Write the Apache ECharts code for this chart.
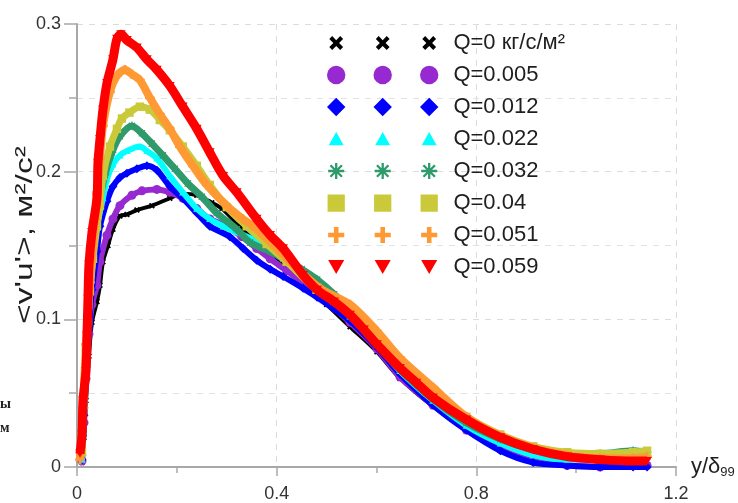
<!DOCTYPE html>
<html>
<head>
<meta charset="utf-8">
<script src="https://cdn.jsdelivr.net/npm/echarts@6/dist/echarts.min.js"></script>
<style>
  html, body { margin: 0; padding: 0; background: #fff; }
  #chart { width: 738px; height: 503px; }
</style>
</head>
<body>
<div id="chart"></div>
<script>
// legend names (Q, kg/s/m2)
const names = ['Q=0 кг/с/м²', 'Q=0.005', 'Q=0.012', 'Q=0.022', 'Q=0.032', 'Q=0.04', 'Q=0.051', 'Q=0.059'];
const xTicks = [0, 0.4, 0.8, 1.2];
const yTicks = [0, 0.1, 0.2, 0.3];

// [y/delta99, <v'u'>]
const q0 = [[0.010,0.003],[0.014,0.020],[0.018,0.045],[0.024,0.075],[0.030,0.098],[0.040,0.112],[0.046,0.123],[0.052,0.139],[0.062,0.150],[0.072,0.161],[0.086,0.170],[0.100,0.171],[0.120,0.174],[0.150,0.177],[0.186,0.182],[0.210,0.185],[0.240,0.184],[0.270,0.179],[0.290,0.175],[0.320,0.165],[0.350,0.155],[0.387,0.145],[0.440,0.128],[0.500,0.110],[0.547,0.095],[0.601,0.078],[0.647,0.060],[0.713,0.041],[0.780,0.025],[0.848,0.012],[0.914,0.004],[0.982,0.001],[1.048,0.000],[1.114,0.000],[1.142,0.001]];
const q005 = [[0.010,0.004],[0.014,0.030],[0.018,0.060],[0.024,0.090],[0.030,0.110],[0.040,0.123],[0.046,0.139],[0.060,0.157],[0.072,0.168],[0.086,0.177],[0.110,0.184],[0.130,0.187],[0.160,0.188],[0.186,0.186],[0.212,0.182],[0.240,0.175],[0.266,0.168],[0.300,0.163],[0.330,0.156],[0.360,0.148],[0.387,0.141],[0.420,0.133],[0.467,0.121],[0.500,0.112],[0.547,0.098],[0.601,0.080],[0.647,0.061],[0.713,0.042],[0.780,0.025],[0.848,0.012],[0.914,0.004],[0.982,0.001],[1.048,0.000],[1.114,0.001],[1.142,0.001]];
const q012 = [[0.010,0.005],[0.014,0.035],[0.018,0.065],[0.024,0.095],[0.030,0.120],[0.040,0.146],[0.046,0.163],[0.060,0.180],[0.072,0.190],[0.086,0.196],[0.100,0.199],[0.120,0.202],[0.140,0.204],[0.160,0.201],[0.186,0.190],[0.212,0.182],[0.240,0.172],[0.266,0.163],[0.306,0.156],[0.333,0.148],[0.360,0.140],[0.387,0.134],[0.413,0.129],[0.453,0.121],[0.481,0.115],[0.515,0.107],[0.547,0.099],[0.601,0.081],[0.647,0.063],[0.713,0.042],[0.780,0.025],[0.848,0.011],[0.914,0.003],[0.982,0.001],[1.048,0.000],[1.114,0.000],[1.142,0.000]];
const q022 = [[0.010,0.005],[0.014,0.040],[0.018,0.075],[0.024,0.110],[0.030,0.140],[0.040,0.163],[0.052,0.182],[0.060,0.195],[0.072,0.205],[0.086,0.211],[0.100,0.214],[0.126,0.217],[0.140,0.214],[0.160,0.209],[0.186,0.197],[0.212,0.186],[0.240,0.175],[0.266,0.168],[0.293,0.163],[0.320,0.159],[0.360,0.153],[0.387,0.148],[0.413,0.142],[0.450,0.132],[0.481,0.122],[0.515,0.112],[0.547,0.102],[0.601,0.083],[0.647,0.065],[0.713,0.045],[0.780,0.028],[0.848,0.016],[0.914,0.008],[0.982,0.005],[1.048,0.005],[1.114,0.007],[1.142,0.007]];
const q032 = [[0.010,0.008],[0.014,0.040],[0.020,0.080],[0.026,0.120],[0.034,0.150],[0.044,0.178],[0.056,0.198],[0.070,0.213],[0.086,0.224],[0.110,0.231],[0.130,0.226],[0.150,0.219],[0.172,0.211],[0.196,0.202],[0.222,0.192],[0.250,0.183],[0.280,0.172],[0.320,0.161],[0.347,0.152],[0.387,0.146],[0.413,0.141],[0.450,0.134],[0.481,0.127],[0.515,0.117],[0.547,0.105],[0.601,0.083],[0.647,0.066],[0.713,0.046],[0.780,0.030],[0.848,0.019],[0.914,0.012],[0.982,0.009],[1.048,0.009],[1.114,0.011],[1.142,0.010]];
const q04 = [[0.010,0.010],[0.012,0.040],[0.018,0.080],[0.026,0.119],[0.032,0.141],[0.040,0.163],[0.046,0.177],[0.052,0.197],[0.066,0.217],[0.080,0.229],[0.090,0.236],[0.105,0.240],[0.126,0.244],[0.146,0.242],[0.166,0.235],[0.186,0.228],[0.212,0.217],[0.240,0.204],[0.266,0.191],[0.300,0.176],[0.340,0.163],[0.380,0.151],[0.420,0.139],[0.480,0.120],[0.547,0.106],[0.601,0.088],[0.647,0.072],[0.713,0.052],[0.780,0.034],[0.848,0.022],[0.914,0.014],[0.982,0.010],[1.048,0.009],[1.114,0.010],[1.142,0.011]];
const q051 = [[0.006,0.005],[0.012,0.040],[0.018,0.083],[0.026,0.125],[0.032,0.150],[0.036,0.168],[0.040,0.186],[0.046,0.209],[0.052,0.231],[0.066,0.254],[0.080,0.265],[0.096,0.269],[0.110,0.266],[0.126,0.262],[0.146,0.250],[0.166,0.239],[0.186,0.229],[0.206,0.217],[0.232,0.204],[0.260,0.191],[0.300,0.177],[0.332,0.168],[0.353,0.163],[0.373,0.157],[0.421,0.141],[0.487,0.121],[0.547,0.110],[0.601,0.092],[0.647,0.074],[0.713,0.054],[0.780,0.034],[0.848,0.021],[0.914,0.013],[0.982,0.008],[1.048,0.006],[1.114,0.006],[1.142,0.007]];
const q059 = [[0.006,0.009],[0.010,0.022],[0.012,0.045],[0.018,0.065],[0.020,0.089],[0.022,0.114],[0.024,0.137],[0.030,0.159],[0.040,0.182],[0.042,0.206],[0.046,0.222],[0.052,0.242],[0.060,0.260],[0.072,0.276],[0.080,0.290],[0.088,0.293],[0.100,0.289],[0.120,0.284],[0.140,0.276],[0.160,0.269],[0.186,0.258],[0.212,0.244],[0.240,0.229],[0.266,0.213],[0.293,0.197],[0.320,0.186],[0.360,0.168],[0.387,0.157],[0.413,0.148],[0.453,0.130],[0.481,0.120],[0.515,0.112],[0.547,0.103],[0.575,0.093],[0.601,0.083],[0.647,0.067],[0.680,0.057],[0.713,0.047],[0.780,0.032],[0.848,0.020],[0.914,0.012],[0.982,0.007],[1.048,0.005],[1.114,0.004],[1.142,0.004]];

const seriesData = [q0, q005, q012, q022, q032, q04, q051, q059];
const colors = ['#000000', '#9629cf', '#0000ff', '#00ffff', '#2f9a6c', '#c9c93a', '#ff9933', '#ff0000'];

// marker shapes drawn in a 16x16 box
const shapes = {
    cross: [[[2,4.5],[4.5,2],[8,5.5],[11.5,2],[14,4.5],[10.5,8],[14,11.5],[11.5,14],[8,10.5],[4.5,14],[2,11.5],[5.5,8]]],
    circle: 'circle',
    diamond: [[[8,0],[16,8],[8,16],[0,8]]],
    triangle: [[[8,2],[14.5,13.5],[1.5,13.5]]],
    star: [[[1,7],[15,7],[15,9],[1,9]], [[7,1],[9,1],[9,15],[7,15]],
           [[3.7,2.3],[13.7,12.3],[12.3,13.7],[2.3,3.7]], [[12.3,2.3],[13.7,3.7],[3.7,13.7],[2.3,12.3]]],
    square: [[[0.5,0.5],[15.5,0.5],[15.5,15.5],[0.5,15.5]]],
    plus: [[[6,1],[10,1],[10,6],[15,6],[15,10],[10,10],[10,15],[6,15],[6,10],[1,10],[1,6],[6,6]]],
    down: [[[1,2],[15,2],[8,14]]]
};
const shapeNames = ['cross', 'circle', 'diamond', 'triangle', 'star', 'square', 'plus', 'down'];
const markSizes = [8, 9, 9, 9, 10, 9, 11, 11];
const lineWidths = [4, 6, 6, 6, 7, 7, 8, 9];

function shapePath(def, dx, k) {
    const r = 8 * k;
    if (def === 'circle') return 'M' + dx + ',' + r + 'a' + r + ',' + r + ' 0 1,0 ' + 2 * r + ',0a' + r + ',' + r + ' 0 1,0 ' + (-2 * r) + ',0Z';
    return def.map(p => 'M' + p.map(q => (q[0] * k + dx) + ',' + q[1] * k).join('L') + 'Z').join('');
}
function markerPath(def) {
    return 'path://M0,0L0,0M16,16L16,16' + shapePath(def, 0, 1);
}
function legendPath(def) {   // three symbols side by side, like the original legend
    const k = 1.15;
    return 'path://M0,0L0,0M' + (93 + 16 * k) + ',' + 16 * k + 'L' + (93 + 16 * k) + ',' + 16 * k +
        [0, 46.5, 93].map(dx => shapePath(def, dx, k)).join('');
}

let myChart = echarts.init(document.getElementById('chart'), null, { renderer: 'canvas' });
const font = 'Liberation Sans, Arial, sans-serif';

let series = seriesData.map((d, i) => ({
    name: names[i],
    type: 'line',
    data: d,
    smooth: 0.3,
    symbol: markerPath(shapes[shapeNames[i]]),
    symbolSize: markSizes[i],
    symbolKeepAspect: true,
    showAllSymbol: true,
    lineStyle: { color: colors[i], width: lineWidths[i] },
    itemStyle: { color: colors[i], borderWidth: 0 },
    emphasis: { disabled: true },
    z: 2 + i
}));

let option = {
    backgroundColor: '#fff',
    animation: false,
    grid: { left: 77, top: 24, width: 599, height: 446 },
    legend: {
        orient: 'vertical',
        left: 322,
        top: 27,
        itemWidth: 111.4,
        itemHeight: 18.4,
        itemGap: 10,
        selectedMode: false,
        itemStyle: { borderWidth: 0 },
        textStyle: { fontSize: 22, color: '#1e1e1e', fontFamily: font, padding: [0, 0, 0, 10] },
        data: names.map((n, i) => ({ name: n, icon: legendPath(shapes[shapeNames[i]]) }))
    },
    xAxis: {
        type: 'value',
        min: 0,
        max: 1.2,
        interval: 0.4,
        name: '{a|y/δ}{b|99}',
        nameLocation: 'end',
        nameGap: 15,
        nameTextStyle: {
            rich: {
                a: { fontSize: 22, color: '#1e1e1e', fontFamily: font },
                b: { fontSize: 13, color: '#1e1e1e', fontFamily: font, padding: [11, 0, 0, 0] }
            }
        },
        axisLine: { lineStyle: { color: '#a8a8a8', width: 2 } },
        axisTick: { length: 9, lineStyle: { color: '#a8a8a8', width: 1.5 } },
        minorTick: { show: true, splitNumber: 2, length: 6, lineStyle: { color: '#a8a8a8', width: 1.5 } },
        axisLabel: { fontSize: 18, color: '#333', fontFamily: font, margin: 18,
            formatter: v => xTicks.includes(+v.toFixed(2)) ? String(+v.toFixed(2)) : '' },
        splitLine: { show: true, lineStyle: { color: '#dcdcdc', type: [6, 6], width: 1 } }
    },
    yAxis: {
        type: 'value',
        min: 0,
        max: 0.3,
        interval: 0.1,
        axisLine: { show: true, lineStyle: { color: '#a8a8a8', width: 2 } },
        axisTick: { length: 13, lineStyle: { color: '#a8a8a8', width: 1.5 } },
        minorTick: { show: true, splitNumber: 2, length: 8, lineStyle: { color: '#a8a8a8', width: 1.5 } },
        axisLabel: { fontSize: 18, color: '#333', fontFamily: font, margin: 16,
            formatter: v => yTicks.includes(+v.toFixed(2)) ? String(+v.toFixed(2)) : '' },
        splitLine: { show: true, lineStyle: { color: '#dcdcdc', type: [6, 6], width: 1 } },
        minorSplitLine: { show: true, lineStyle: { color: '#e2e2e2', type: [6, 6], width: 1 } }
    },
    graphic: [
        // y axis title, stretched along its length like the original
        { type: 'text', x: 25, y: 235, rotation: Math.PI / 2, scaleX: 1.4,
          style: { text: "<v'u'>, м²/с²", font: '24px ' + font, fill: '#1e1e1e', align: 'center', verticalAlign: 'middle' } },
        { type: 'text', left: 0, top: 397, style: { text: 'ы', font: 'bold 14px "Liberation Serif"', fill: '#222' } },
        { type: 'text', left: 0, top: 421, style: { text: 'м', font: 'bold 14px "Liberation Serif"', fill: '#222' } }
    ],
    series: series
};
myChart.setOption(option);
</script>
</body>
</html>
